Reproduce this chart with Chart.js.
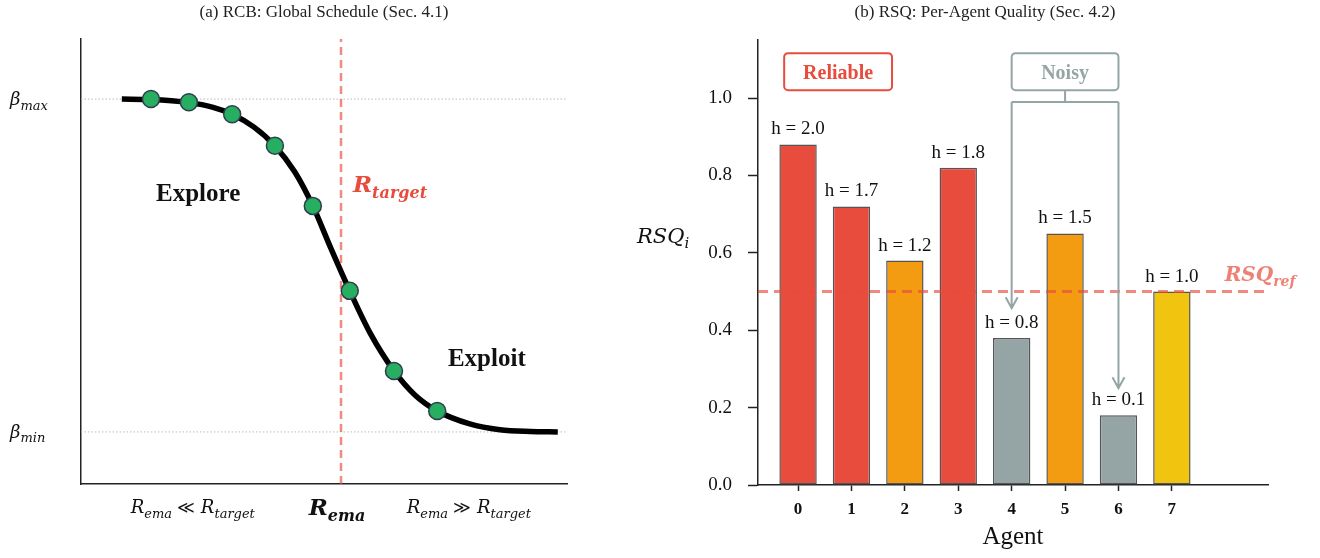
<!DOCTYPE html>
<html lang="en">
<head>
  <meta charset="UTF-8">
  <title>RCB schedule and RSQ per-agent quality</title>
  <script src="https://cdn.jsdelivr.net/npm/chart.js"></script>
  <style>
    html, body { margin: 0; padding: 0; background: #fff; }
    .panel { position: absolute; top: 0; height: 558px; }
    #left { left: 0; width: 620px; }
    #right { left: 620px; width: 700px; }
  </style>
</head>
<body>
  <div class="panel" id="left"><canvas id="rcb" width="620" height="558"></canvas></div>
  <div class="panel" id="right"><canvas id="rsq" width="700" height="558"></canvas></div>

  <script>
    // (a) schedule curve (x: R_ema, y: beta)
    const curveX = [0.84, 1.44, 2.22, 2.70, 3.11, 3.56, 3.99, 4.40, 4.77, 5.14, 5.53, 5.95, 6.44, 6.87, 7.33, 8.00, 8.62, 9.24, 9.81];
    const curveY = [0.865, 0.864, 0.857, 0.847, 0.831, 0.802, 0.760, 0.701, 0.625, 0.530, 0.434, 0.339, 0.254, 0.200, 0.164, 0.135, 0.122, 0.118, 0.117];
    const stepX = [1.44, 2.22, 3.11, 3.99, 4.77, 5.53, 6.44, 7.33];
    const stepY = [0.865, 0.858, 0.831, 0.760, 0.625, 0.434, 0.254, 0.164];
    const betaMax = 0.865;
    const betaMin = 0.117;
    const rTarget = 5.35;

    // (b) per-agent quality
    const agents = [0, 1, 2, 3, 4, 5, 6, 7];
    const rsq = [0.88, 0.72, 0.58, 0.82, 0.38, 0.65, 0.18, 0.50];
    const hLabels = ['2.0', '1.7', '1.2', '1.8', '0.8', '1.5', '0.1', '1.0'];
    const rsqRef = 0.5;
    const noisyAgents = [4, 6];
    const noisyArrowTips = [0.457, 0.25];
    const yTicks = [0.0, 0.2, 0.4, 0.6, 0.8, 1.0];

    const RED = '#e74c3c', ORANGE = '#f39c12', GRAY = '#95a5a6', YELLOW = '#f1c40f';
    const barColors = [RED, RED, ORANGE, RED, GRAY, ORANGE, GRAY, YELLOW];
    const SALMON = 'rgba(231, 76, 60, 0.65)';
    const SERIF = '"Liberation Serif", "Times New Roman", serif';
    const MATH = '"DejaVu Serif", serif';

    // draw a row of text pieces (used for the math-like labels with subscripts)
    function drawRuns(ctx, runs, x, y, align) {
      let w = 0;
      runs.forEach(r => { ctx.font = r.f; r.w = ctx.measureText(r.t).width; w += r.w; });
      let cx = align === 'center' ? x - w / 2 : (align === 'right' ? x - w : x);
      ctx.textAlign = 'left';
      ctx.textBaseline = 'alphabetic';
      runs.forEach(r => {
        ctx.font = r.f;
        ctx.fillStyle = r.c || '#111';
        ctx.fillText(r.t, cx, y + (r.dy || 0));
        cx += r.w;
      });
    }

    function sym(base, sub, size, color, bold) {
      const b = bold ? 'bold ' : '';
      return [
        { t: base, f: `italic ${b}${size}px ${MATH}`, c: color },
        { t: sub, f: `italic ${b}${Math.round(size * 0.7)}px ${MATH}`, c: color, dy: size * 0.25 }
      ];
    }

    function plainText(ctx, text, x, y, font, color, align, baseline) {
      ctx.font = font;
      ctx.fillStyle = color;
      ctx.textAlign = align || 'center';
      ctx.textBaseline = baseline || 'alphabetic';
      ctx.fillText(text, x, y);
    }

    // ---------- (a) RCB: Global Schedule ----------
    const rcbLabels = {
      id: 'rcbLabels',
      afterDraw(chart) {
        const { ctx, chartArea } = chart;
        const xs = chart.scales.x, ys = chart.scales.y;
        ctx.save();
        plainText(ctx, '(a) RCB: Global Schedule (Sec. 4.1)', (chartArea.left + chartArea.right) / 2, 17, `17px ${SERIF}`, '#222');

        drawRuns(ctx, sym('β', 'max', 18, '#111'), 10, ys.getPixelForValue(betaMax) + 6, 'left');
        drawRuns(ctx, sym('β', 'min', 18, '#111'), 10, ys.getPixelForValue(betaMin) + 6, 'left');

        plainText(ctx, 'Explore', xs.getPixelForValue(2.41), ys.getPixelForValue(0.654) + 8, `bold 25px ${SERIF}`, '#111');
        plainText(ctx, 'Exploit', xs.getPixelForValue(8.35), ys.getPixelForValue(0.283) + 8, `bold 25px ${SERIF}`, '#111');

        drawRuns(ctx, sym('R', 'target', 23, RED, true), xs.getPixelForValue(rTarget) + 12, ys.getPixelForValue(0.667) + 5, 'left');

        const axisY = chartArea.bottom;
        const lt = sym('R', 'ema', 18, '#111').concat([{ t: ' ≪ ', f: `17px ${MATH}`, c: '#111' }], sym('R', 'target', 18, '#111'));
        drawRuns(ctx, lt, xs.getPixelForValue(2.3), axisY + 29, 'center');
        drawRuns(ctx, sym('R', 'ema', 23, '#111', true), xs.getPixelForValue(rTarget) - 4, axisY + 31, 'center');
        const gt = sym('R', 'ema', 18, '#111').concat([{ t: ' ≫ ', f: `17px ${MATH}`, c: '#111' }], sym('R', 'target', 18, '#111'));
        drawRuns(ctx, gt, xs.getPixelForValue(7.98), axisY + 29, 'center');
        ctx.restore();
      }
    };

    new Chart(document.getElementById('rcb'), {
      type: 'line',
      data: {
        datasets: [
          {
            type: 'scatter',
            data: stepX.map((x, i) => ({ x: x, y: stepY[i] })),
            backgroundColor: '#27ae60',
            borderColor: '#2c3e50',
            borderWidth: 1.5,
            pointRadius: 8.5,
            showLine: false,
            order: 0
          },
          {
            data: curveX.map((x, i) => ({ x: x, y: curveY[i] })),
            borderColor: '#000',
            borderWidth: 5.5,
            pointRadius: 0,
            cubicInterpolationMode: 'monotone',
            borderCapStyle: 'butt',
            order: 1
          },
          {
            data: [{ x: rTarget, y: 0 }, { x: rTarget, y: 1 }],
            borderColor: SALMON,
            borderWidth: 2.5,
            borderDash: [8, 5],
            pointRadius: 0,
            order: 2
          },
          {
            data: [{ x: 0, y: betaMax }, { x: 10, y: betaMax }],
            borderColor: '#bbb',
            borderWidth: 1,
            borderDash: [1.5, 2],
            pointRadius: 0,
            order: 3
          },
          {
            data: [{ x: 0, y: betaMin }, { x: 10, y: betaMin }],
            borderColor: '#bbb',
            borderWidth: 1,
            borderDash: [1.5, 2],
            pointRadius: 0,
            order: 3
          }
        ]
      },
      options: {
        responsive: false,
        animation: false,
        layout: { padding: { left: 81, top: 39, right: 53, bottom: 74 } },
        plugins: { legend: { display: false }, tooltip: { enabled: false } },
        scales: {
          x: {
            type: 'linear', min: 0, max: 10,
            ticks: { display: false },
            grid: { display: false },
            border: { display: true, color: '#222', width: 1.5 },
            afterFit(scale) { scale.height = 0; }
          },
          y: {
            type: 'linear', min: 0, max: 1,
            ticks: { display: false },
            grid: { display: false },
            border: { display: true, color: '#222', width: 1.5 },
            afterFit(scale) { scale.width = 0; }
          }
        }
      },
      plugins: [rcbLabels]
    });

    // ---------- (b) RSQ: Per-Agent Quality ----------
    function roundBox(ctx, x0, y0, x1, y1, r) {
      ctx.beginPath();
      ctx.moveTo(x0 + r, y0);
      ctx.arcTo(x1, y0, x1, y1, r);
      ctx.arcTo(x1, y1, x0, y1, r);
      ctx.arcTo(x0, y1, x0, y0, r);
      ctx.arcTo(x0, y0, x1, y0, r);
      ctx.closePath();
      ctx.fillStyle = '#fff';
      ctx.fill();
      ctx.stroke();
    }

    const rsqLabels = {
      id: 'rsqLabels',
      afterDraw(chart) {
        const { ctx } = chart;
        const xs = chart.scales.x, ys = chart.scales.y;
        ctx.save();
        plainText(ctx, '(b) RSQ: Per-Agent Quality (Sec. 4.2)', 365, 17, `17px ${SERIF}`, '#222');

        // h labels above the bars
        agents.forEach((a, i) => {
          plainText(ctx, 'h = ' + hLabels[i], xs.getPixelForValue(a), ys.getPixelForValue(rsq[i]) - 10, `19px ${SERIF}`, '#111');
        });

        // reference label
        drawRuns(ctx, sym('RSQ', 'ref', 20, 'rgba(231, 76, 60, 0.7)', true), xs.getPixelForValue(7.99), ys.getPixelForValue(rsqRef) - 11, 'left');

        // y axis title
        drawRuns(ctx, sym('RSQ', 'i', 21, '#111'), 17, 243, 'left');

        // boxes
        const by0 = ys.getPixelForValue(1.116), by1 = ys.getPixelForValue(1.02);
        ctx.lineWidth = 2;
        ctx.strokeStyle = RED;
        roundBox(ctx, xs.getPixelForValue(-0.26), by0, xs.getPixelForValue(1.76), by1, 4);
        plainText(ctx, 'Reliable', xs.getPixelForValue(0.75), (by0 + by1) / 2 + 7, `bold 20px ${SERIF}`, RED);
        ctx.strokeStyle = GRAY;
        roundBox(ctx, xs.getPixelForValue(4), by0, xs.getPixelForValue(6), by1, 4);
        plainText(ctx, 'Noisy', xs.getPixelForValue(5), (by0 + by1) / 2 + 7, `bold 20px ${SERIF}`, GRAY);

        // bracket and arrows to the noisy agents
        const yb = ys.getPixelForValue(0.99);
        ctx.beginPath();
        ctx.moveTo(xs.getPixelForValue(5), by1);
        ctx.lineTo(xs.getPixelForValue(5), yb);
        ctx.moveTo(xs.getPixelForValue(noisyAgents[0]), yb);
        ctx.lineTo(xs.getPixelForValue(noisyAgents[1]), yb);
        noisyAgents.forEach((a, i) => {
          const px = xs.getPixelForValue(a), tip = ys.getPixelForValue(noisyArrowTips[i]);
          ctx.moveTo(px, yb);
          ctx.lineTo(px, tip);
          ctx.moveTo(px - 6, tip - 11);
          ctx.lineTo(px, tip);
          ctx.lineTo(px + 6, tip - 11);
        });
        ctx.lineWidth = 2;
        ctx.strokeStyle = GRAY;
        ctx.stroke();
        ctx.restore();
      }
    };

    new Chart(document.getElementById('rsq'), {
      type: 'bar',
      data: {
        datasets: [
          {
            type: 'line',
            data: [{ x: -0.75, y: rsqRef }, { x: 8.8, y: rsqRef }],
            borderColor: SALMON,
            borderWidth: 3,
            borderDash: [10, 6],
            pointRadius: 0,
            order: 0
          },
          {
            data: agents.map((a, i) => ({ x: a, y: rsq[i] })),
            backgroundColor: barColors,
            borderColor: '#555',
            borderWidth: 1.5,
            borderSkipped: false,
            barPercentage: 0.7,
            categoryPercentage: 1.0,
            order: 1
          }
        ]
      },
      options: {
        responsive: false,
        animation: false,
        layout: { padding: { left: 0, top: 40, right: 52, bottom: 0 } },
        plugins: { legend: { display: false }, tooltip: { enabled: false } },
        scales: {
          x: {
            type: 'linear', min: -0.75, max: 8.8, offset: false,
            afterBuildTicks(scale) { scale.ticks = agents.map(a => ({ value: a })); },
            ticks: { font: { family: SERIF, size: 17, weight: 'bold' }, color: '#111', padding: 8, maxRotation: 0 },
            grid: { drawOnChartArea: false, drawTicks: true, tickLength: 6, tickWidth: 1.5, tickColor: '#222', offset: false },
            border: { display: true, color: '#222', width: 1.5 },
            title: { display: true, text: 'Agent', font: { family: SERIF, size: 25 }, color: '#111', padding: { top: 0, bottom: 6 } },
            afterFit(scale) { scale.height = 73; }
          },
          y: {
            type: 'linear', min: 0, max: 1.15,
            afterBuildTicks(scale) { scale.ticks = yTicks.map(v => ({ value: v })); },
            ticks: { font: { family: SERIF, size: 19 }, color: '#111', padding: 16, callback: v => v.toFixed(1) },
            grid: { drawOnChartArea: false, drawTicks: true, tickLength: 10, tickWidth: 1.5, tickColor: '#222' },
            border: { display: true, color: '#222', width: 1.5 },
            afterFit(scale) { scale.width = 138; }
          }
        }
      },
      plugins: [rsqLabels]
    });
  </script>
</body>
</html>
